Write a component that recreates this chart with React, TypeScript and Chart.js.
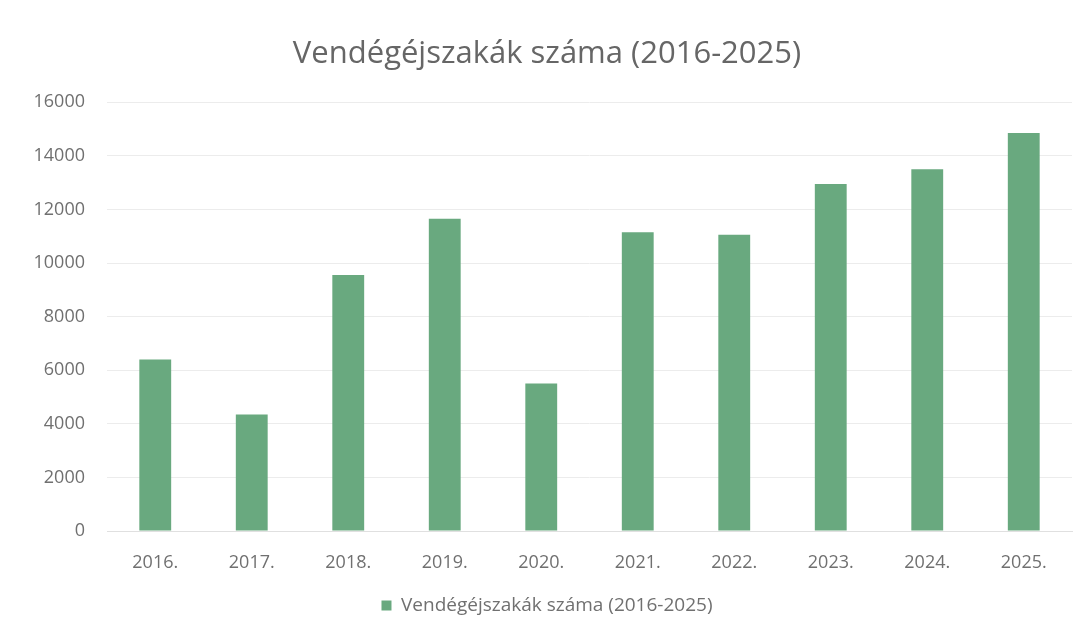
import React, { useEffect, useRef } from "react";
import { Chart, registerables } from "chart.js";

Chart.register(...registerables);

const categories = ["2016.", "2017.", "2018.", "2019.", "2020.", "2021.", "2022.", "2023.", "2024.", "2025."];
const seriesName = "Vendégéjszakák száma (2016-2025)";
const seriesValues = [6400, 4350, 9550, 11650, 5500, 11150, 11050, 12950, 13500, 14850];
const yTicks = [0, 2000, 4000, 6000, 8000, 10000, 12000, 14000, 16000];
const chartTitle = "Vendégéjszakák száma (2016-2025)";

export default function App() {
  const ref = useRef<HTMLCanvasElement | null>(null);

  useEffect(() => {
    document.body.style.margin = "0";
    document.body.style.background = "#ffffff";
    const canvas = ref.current;
    if (!canvas) return;
    const chart = new Chart(canvas, {
      type: "bar",
      data: {
        labels: categories,
        datasets: [
          {
            label: seriesName,
            data: seriesValues,
            backgroundColor: "#69a97f",
            borderWidth: 0,
            barPercentage: 0.33,
            categoryPercentage: 1,
          },
        ],
      },
      options: {
        responsive: false,
        animation: false,
        maintainAspectRatio: false,
        layout: { padding: { left: 22, right: 10, top: 0, bottom: -6 } },
        plugins: {
          title: {
            display: true,
            text: chartTitle,
            color: "#666666",
            font: { family: "Open Sans", size: 31, weight: "normal" },
            padding: { top: 36, bottom: 29 },
          },
          legend: {
            position: "bottom",
            labels: {
              color: "#707070",
              font: { family: "Open Sans", size: 19 },
              boxWidth: 10,
              boxHeight: 10,
              padding: 0,
            },
          },
          tooltip: { enabled: false },
        },
        scales: {
          x: {
            grid: { display: false },
            border: { color: "#e0e0e0" },
            afterFit: (axis: any) => {
              axis.height = 65;
            },
            ticks: {
              color: "#707070",
              font: { family: "Open Sans", size: 18 },
              padding: 13,
            },
          },
          y: {
            min: 0,
            max: 16000,
            afterBuildTicks: (axis: any) => {
              axis.ticks = yTicks.map((v) => ({ value: v }));
            },
            afterFit: (axis: any) => {
              axis.width = 85;
            },
            grid: { color: "#ececec", drawTicks: false },
            border: { display: false },
            ticks: {
              color: "#707070",
              font: { family: "Open Sans", size: 18 },
              padding: 22,
              callback: (v: any) => String(v),
            },
          },
        },
      },
    });
    return () => chart.destroy();
  }, []);

  return (
    <div style={{ width: 1082, height: 619 }}>
      <canvas ref={ref} width={1082} height={619} style={{ display: "block" }} />
    </div>
  );
}
